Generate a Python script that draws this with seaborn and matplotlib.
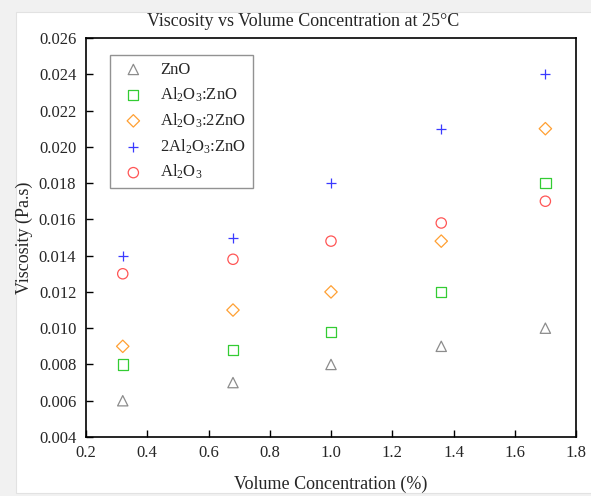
import matplotlib
matplotlib.use("Agg")
import matplotlib.pyplot as plt
import seaborn as sns
from matplotlib.patches import Rectangle

# data
conc = [0.32, 0.68, 1.0, 1.36, 1.7]
zno = [0.006, 0.007, 0.008, 0.009, 0.010]
al2o3_zno = [0.008, 0.0088, 0.0098, 0.012, 0.018]
al2o3_2zno = [0.009, 0.011, 0.012, 0.0148, 0.021]
two_al2o3_zno = [0.014, 0.015, 0.018, 0.021, 0.024]
al2o3 = [0.013, 0.0138, 0.0148, 0.0158, 0.017]

x_ticks = [0.2, 0.4, 0.6, 0.8, 1.0, 1.2, 1.4, 1.6, 1.8]
y_ticks = [0.004, 0.006, 0.008, 0.010, 0.012, 0.014, 0.016, 0.018, 0.020, 0.022, 0.024, 0.026]

sns.set_theme(style="white")
plt.rcParams['font.family'] = ['Liberation Serif', 'DejaVu Serif']
plt.rcParams['mathtext.default'] = 'regular'

fig = plt.figure(figsize=(5.91, 4.96), dpi=100, facecolor='#f1f1f1')
# white page on the grey screenshot background
fig.patches.append(Rectangle((16 / 591, 3 / 496), 1, 481 / 496, transform=fig.transFigure,
                             facecolor='white', edgecolor='#e2e2e2', lw=0.8, zorder=-10))
ax = fig.add_axes([86 / 591, 1 - 437 / 496, 490 / 591, 399 / 496])
ax.set_facecolor('none')

series = [
    (zno, 'ZnO', '^', '#8c8c8c'),
    (al2o3_zno, 'Al$_2$O$_3$:ZnO', 's', '#33cc33'),
    (al2o3_2zno, 'Al$_2$O$_3$:2ZnO', 'D', '#ffa033'),
    (two_al2o3_zno, '2Al$_2$O$_3$:ZnO', '+', '#3a3aff'),
    (al2o3, 'Al$_2$O$_3$', 'o', '#ff5555'),
]
for vals, name, m, c in series:
    if m == '+':
        sns.scatterplot(x=conc, y=vals, marker=m, color=c, s=55, linewidth=0.9, label=name, ax=ax)
    else:
        size = 40 if m == 'D' else 55
        sns.scatterplot(x=conc, y=vals, marker=m, color=c, facecolor='none', edgecolor=c,
                        s=size, linewidth=0.9, label=name, ax=ax)

ax.set_xlim(0.2, 1.8)
ax.set_ylim(0.004, 0.026)
ax.set_xticks(x_ticks)
ax.set_yticks(y_ticks)
ax.set_xticklabels([f"{t:.1f}" for t in x_ticks], fontsize=12)
ax.set_yticklabels([f"{t:.3f}" for t in y_ticks], fontsize=12)
ax.tick_params(direction='in', length=5, width=1, color='black', left=True, bottom=True)
ax.tick_params(axis='x', pad=6)
ax.tick_params(axis='y', pad=7)
for sp in ax.spines.values():
    sp.set_color('black')
    sp.set_linewidth(1.2)

ax.set_xlabel('Volume Concentration (%)', fontsize=13, labelpad=10)
ax.set_ylabel('Viscosity (Pa.s)', fontsize=13, labelpad=4)
fig.text(303 / 591, 1 - 21 / 496, 'Viscosity vs Volume Concentration at 25\u00b0C',
         fontsize=13, ha='center', va='center')

leg = ax.legend(loc='upper left', bbox_to_anchor=(0.049, 0.957), borderaxespad=0,
                fontsize=12, frameon=True, fancybox=False, edgecolor='#777777',
                labelspacing=0.45, handletextpad=0.6, borderpad=0.4)
leg.get_frame().set_linewidth(1.0)

fig.savefig('out.png', dpi=100, facecolor=fig.get_facecolor())
